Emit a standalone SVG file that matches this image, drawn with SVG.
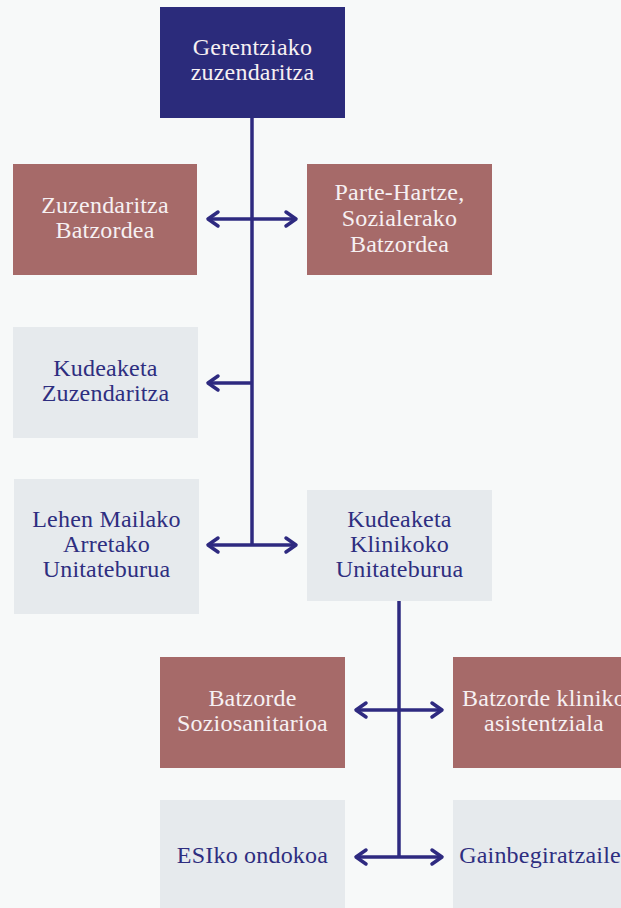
<svg xmlns="http://www.w3.org/2000/svg" width="621" height="908" viewBox="0 0 621 908">
<defs>
<style>
.bg{fill:#f7f9f9}
.navy{fill:#2b2b7b}
.red{fill:#a66a69}
.light{fill:#e6eaed}
text{font-family:"Liberation Serif","DejaVu Serif",serif;font-size:24px;letter-spacing:0.2px;text-anchor:middle}
.w{fill:#f6f0f2}
.b{fill:#2e2e80}
.ln{stroke:#2e2a80;stroke-width:3.5;fill:none}
.ah{stroke:#2e2a80;stroke-width:3.5;fill:none;stroke-linecap:round;stroke-linejoin:round}
</style>
</defs>
<rect class="bg" x="0" y="0" width="621" height="908"/>
<g id="connectors">
<line class="ln" x1="252" y1="118" x2="252" y2="545"/>
<line class="ln" x1="208" y1="219" x2="296" y2="219"/>
<polyline class="ah" points="218,212 208,219 218,226"/>
<polyline class="ah" points="286,212 296,219 286,226"/>
<line class="ln" x1="208" y1="383" x2="252" y2="383"/>
<polyline class="ah" points="218,376 208,383 218,390"/>
<line class="ln" x1="208" y1="545" x2="296" y2="545"/>
<polyline class="ah" points="218,538 208,545 218,552"/>
<polyline class="ah" points="286,538 296,545 286,552"/>
<line class="ln" x1="399" y1="601" x2="399" y2="857"/>
<line class="ln" x1="356" y1="710" x2="442" y2="710"/>
<polyline class="ah" points="366,703 356,710 366,717"/>
<polyline class="ah" points="432,703 442,710 432,717"/>
<line class="ln" x1="356" y1="857" x2="442" y2="857"/>
<polyline class="ah" points="366,850 356,857 366,864"/>
<polyline class="ah" points="432,850 442,857 432,864"/>
</g>
<g id="gerentziako">
<rect class="navy" x="160" y="7" width="185" height="111"/>
<text class="w" x="252.5" y="55">Gerentziako</text>
<text class="w" x="252.5" y="80">zuzendaritza</text>
</g>
<g id="zuzendaritza-batzordea">
<rect class="red" x="13" y="164" width="184" height="111"/>
<text class="w" x="105" y="213">Zuzendaritza</text>
<text class="w" x="105" y="238">Batzordea</text>
</g>
<g id="parte-hartze">
<rect class="red" x="307" y="164" width="185" height="111"/>
<text class="w" x="399.5" y="200">Parte-Hartze,</text>
<text class="w" x="399.5" y="226">Sozialerako</text>
<text class="w" x="399.5" y="252">Batzordea</text>
</g>
<g id="kudeaketa-zuzendaritza">
<rect class="light" x="13" y="327" width="185" height="111"/>
<text class="b" x="105.5" y="376">Kudeaketa</text>
<text class="b" x="105.5" y="401">Zuzendaritza</text>
</g>
<g id="lehen-mailako">
<rect class="light" x="14" y="479" width="185" height="135"/>
<text class="b" x="106.5" y="527">Lehen Mailako</text>
<text class="b" x="106.5" y="552">Arretako</text>
<text class="b" x="106.5" y="577">Unitateburua</text>
</g>
<g id="kudeaketa-klinikoko">
<rect class="light" x="307" y="490" width="185" height="111"/>
<text class="b" x="399.5" y="527">Kudeaketa</text>
<text class="b" x="399.5" y="552">Klinikoko</text>
<text class="b" x="399.5" y="577">Unitateburua</text>
</g>
<g id="batzorde-soziosanitarioa">
<rect class="red" x="160" y="657" width="185" height="111"/>
<text class="w" x="252.5" y="706">Batzorde</text>
<text class="w" x="252.5" y="731">Soziosanitarioa</text>
</g>
<g id="batzorde-kliniko">
<rect class="red" x="453" y="657" width="185" height="111"/>
<text class="w" x="544" y="706">Batzorde kliniko</text>
<text class="w" x="544" y="731">asistentziala</text>
</g>
<g id="esiko-ondokoa">
<rect class="light" x="160" y="800" width="185" height="111"/>
<text class="b" x="252.5" y="863">ESIko ondokoa</text>
</g>
<g id="gainbegiratzailea">
<rect class="light" x="453" y="800" width="185" height="111"/>
<text class="b" x="545.5" y="863">Gainbegiratzailea</text>
</g>
</svg>
